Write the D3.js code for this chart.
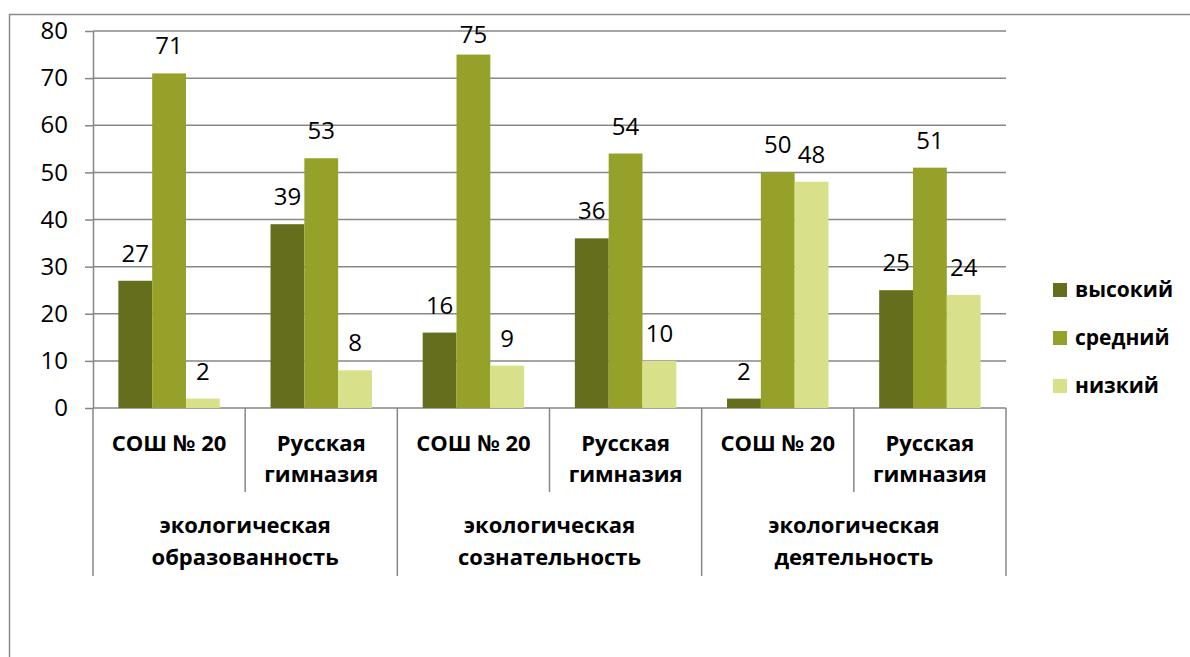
<!DOCTYPE html>
<html><head><meta charset="utf-8">
<script src="https://cdn.jsdelivr.net/npm/d3@7"></script>
<style>
html,body{margin:0;padding:0;background:#fff;}
svg{display:block;font-family:"Open Sans","Noto Sans",sans-serif;}
</style></head>
<body><svg id="c" width="1190" height="657"></svg>
<script>
const schools = ["СОШ № 20", "Русская гимназия", "СОШ № 20", "Русская гимназия", "СОШ № 20", "Русская гимназия"];
const groups = ["экологическая образованность", "экологическая сознательность", "экологическая деятельность"];
const seriesNames = ["высокий", "средний", "низкий"];
const high = [27, 39, 16, 36, 2, 25];
const mid = [71, 53, 75, 54, 50, 51];
const low = [2, 8, 9, 10, 48, 24];
const yTicks = [0, 10, 20, 30, 40, 50, 60, 70, 80];
const colors = ["#656E1D", "#96A12A", "#D8E08A"];

const series = [high, mid, low];
const svg = d3.select("#c");
const gridColor = "#878787";

// outer frame
svg.append("path").attr("d", "M9.5,657 L9.5,14.5 L1190,14.5")
  .attr("fill", "none").attr("stroke", "#8a8a8a").attr("stroke-width", 1.5);

const x0 = 93, x1 = 1006, yTop = 31, yBot = 408;
const idx = d3.range(schools.length);
const x = d3.scaleBand().domain(idx).range([x0, x1]).paddingInner(0).paddingOuter(0);
const bw = x.bandwidth() / 4.5;
const xs = d3.scaleBand().domain([0, 1, 2]).range([0.75 * bw, 3.75 * bw]).padding(0);
const y = d3.scaleLinear().domain([0, 80]).range([yBot, yTop]);

// gridlines + y axis
const yAxis = d3.axisLeft(y).tickValues(yTicks).tickSize(8).tickPadding(17)
  .tickSizeOuter(0);
const ga = svg.append("g").attr("transform", `translate(${x0},0)`).call(yAxis);
ga.select(".domain").attr("stroke", gridColor).attr("stroke-width", 1.5);
ga.selectAll(".tick line").attr("stroke", gridColor).attr("stroke-width", 1.5);
ga.selectAll(".tick text").attr("font-size", 24).attr("fill", "#000")
  .attr("font-family", "'Open Sans', sans-serif");
svg.append("g").selectAll("line").data(yTicks).join("line")
  .attr("x1", x0).attr("x2", x1)
  .attr("y1", d => y(d)).attr("y2", d => y(d))
  .attr("stroke", gridColor).attr("stroke-width", 1.5);

// bars
const bars = svg.append("g");
series.forEach((vals, s) => {
  bars.selectAll(null).data(idx).join("rect")
    .attr("x", i => x(i) + xs(s))
    .attr("width", xs.bandwidth())
    .attr("y", i => y(vals[i]))
    .attr("height", i => y(0) - y(vals[i]))
    .attr("fill", colors[s]);
});
// data labels (kept inside the chart area like the original)
series.forEach((vals, s) => {
  bars.selectAll(null).data(idx).join("text")
    .attr("x", i => x(i) + xs(s) + xs.bandwidth() / 2)
    .attr("y", i => Math.max(y(vals[i]) - 19, 43))
    .attr("text-anchor", "middle").attr("font-size", 24).attr("fill", "#000")
    .text(i => vals[i]);
});

// category dividers
const bounds = d3.range(schools.length + 1);
svg.append("g").selectAll("line").data(bounds).join("line")
  .attr("x1", i => x0 + i * x.step()).attr("x2", i => x0 + i * x.step())
  .attr("y1", yBot).attr("y2", i => i % 2 === 0 ? 576 : 492)
  .attr("stroke", gridColor).attr("stroke-width", 1.5);

// school labels
const sl = svg.append("g").attr("font-weight", "bold").attr("font-size", 22)
  .attr("text-anchor", "middle").attr("fill", "#000");
idx.forEach(i => {
  const words = schools[i].startsWith("СОШ") ? [schools[i]] : schools[i].split(" ");
  words.forEach((w, k) => {
    sl.append("text").attr("x", x(i) + x.bandwidth() / 2)
      .attr("y", 451 + k * 31).text(w);
  });
});
// group labels
groups.forEach((g, j) => {
  const cx = x0 + (2 * j + 1) * x.step();
  g.split(" ").forEach((w, k) => {
    sl.append("text").attr("x", cx).attr("y", 533 + k * 32).text(w);
  });
});

// legend
const lg = svg.append("g");
seriesNames.forEach((n, s) => {
  const cy = 290 + s * 48;
  lg.append("rect").attr("x", 1053).attr("y", cy - 7).attr("width", 14).attr("height", 14)
    .attr("fill", colors[s]);
  lg.append("text").attr("x", 1075).attr("y", cy).attr("dy", "0.35em")
    .attr("font-weight", "bold").attr("font-size", 21).attr("fill", "#000").text(n);
});
</script></body></html>
